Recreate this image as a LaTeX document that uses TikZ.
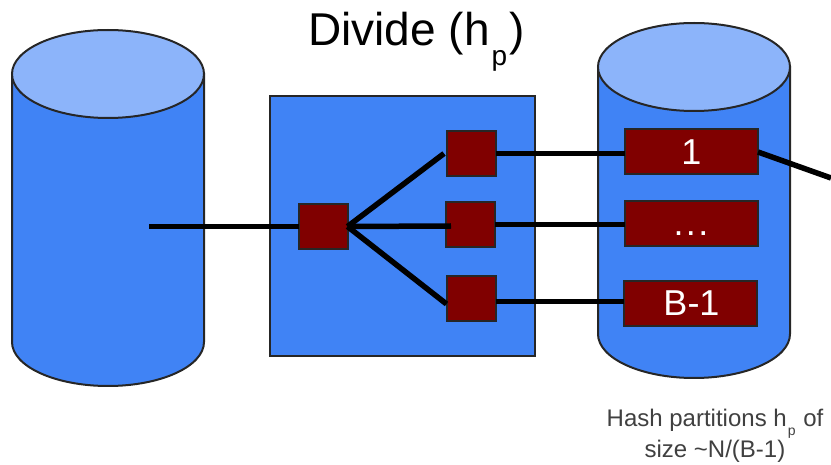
\documentclass[tikz,border=0pt]{standalone}
\usepackage{fontspec}
\setmainfont{Liberation Sans}
\definecolor{cylblue}{HTML}{4083F5}
\definecolor{cyltop}{HTML}{8CB4FA}
\definecolor{maroon}{HTML}{800000}
\tikzset{
  x=1pt,y=-1pt,
  cylbody/.style={draw=black!85,line width=2pt,fill=cylblue},
  cyllid/.style={draw=black!85,line width=2pt,fill=cyltop},
  divbox/.style={draw=black!85,line width=2pt,fill=cylblue,minimum width=265pt,minimum height=260pt,inner sep=0pt,outer sep=0pt},
  redsq/.style={draw=black!85,line width=2pt,fill=maroon,minimum width=49pt,minimum height=45pt,inner sep=0pt,outer sep=0pt},
  redbar/.style={draw=black!85,line width=2pt,fill=maroon,minimum width=133pt,minimum height=45pt,inner sep=0pt,outer sep=0pt,text=white,font=\fontsize{36}{36}\selectfont},
  wire/.style={draw=black,line width=5.5pt},
  wirethin/.style={draw=black,line width=5pt},
}
\begin{document}
\begin{tikzpicture}
\useasboundingbox (0,0) rectangle (831,465);
% left cylinder
\path[cylbody] (12,74) -- (12,342) arc[start angle=180,end angle=360,x radius=96,y radius=-44] -- (204,74) -- cycle;
\path[cyllid] (108,74) ellipse[x radius=96,y radius=44];
% right cylinder
\path[cylbody] (598,67) -- (598,334) arc[start angle=180,end angle=360,x radius=96,y radius=-44] -- (790,67) -- cycle;
\path[cyllid] (694,67) ellipse[x radius=96,y radius=44];
% central box
\node[divbox] (box) at (402.5,226.5) {};
% nodes
\coordinate (src) at (149,226.5);
\coordinate (out) at (831,178);
\node[redsq] (m) at (323,226.5) {};
\node[redsq] (a) at (471.5,153.5) {};
\node[redsq] (b) at (470.5,224.5) {};
\node[redsq] (c) at (471,299) {};
\node[redbar] (r1) at (691.5,152) {1};
\node[redbar] (r2) at (691,224) {\smash{\raisebox{-12pt}{.\kern2.5pt.\kern2.5pt.}}};
\node[redbar] (r3) at (690.5,303.5) {\kern2pt B-1};
% connectors
\draw[wire] (src) -- (m.west);
\draw[wire] (m.east) -- ([xshift=-3pt]a.west);
\draw[wire] (m.east) -- ([xshift=5pt,yshift=-1.5pt]b.west);
\draw[wire] (m.east) -- ([yshift=-5pt]c.west);
\draw[wirethin] (a.east) -- (r1.west |- a.east);
\draw[wirethin] (b.east) -- (r2.west |- b.east);
\draw[wirethin] ([yshift=-3pt]c.east) -- ([yshift=-3pt]r3.west |- c.east);
\draw[wire] (r1.east) -- (out);
% text
\node[anchor=base west,inner sep=0pt] (title) at (308,46) {\fontsize{46}{46}\selectfont Divide (h\kern2pt\raisebox{-20pt}{\fontsize{28}{28}\selectfont p}\kern2pt)};
\node[anchor=base,inner sep=0pt,text=black!75] (cap1) at (715,427) {\fontsize{24}{24}\selectfont Hash partitions h\kern1pt\raisebox{-9pt}{\fontsize{14}{14}\selectfont p}\kern1pt{} of};
\node[anchor=base,inner sep=0pt,text=black!75] (cap2) at (715,457) {\fontsize{24}{24}\selectfont size \textasciitilde N/(B-1)};
\end{tikzpicture}
\end{document}
